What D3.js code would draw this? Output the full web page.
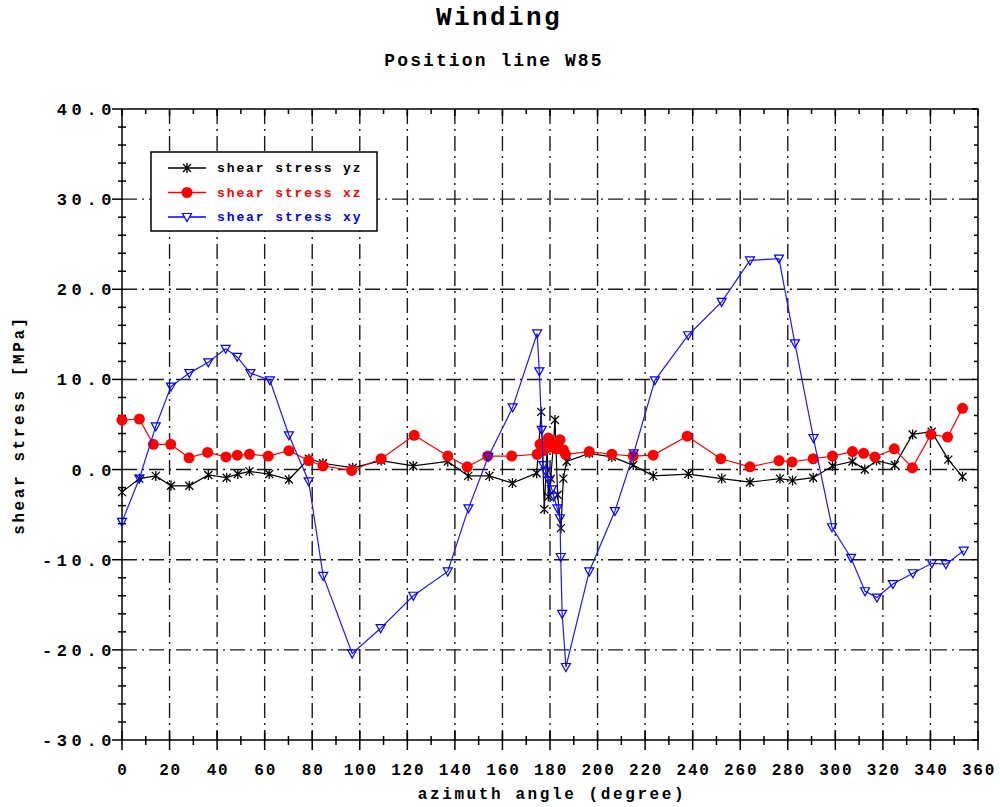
<!DOCTYPE html>
<html>
<head>
<meta charset="utf-8">
<script src="https://cdn.jsdelivr.net/npm/d3@7"></script>
<style>
  body { margin: 0; background: #fff; }
  text { font-family: "Liberation Mono", "DejaVu Sans Mono", monospace; font-weight: bold; }
</style>
</head>
<body>
<div id="chart"></div>
<script>
// Data
const yzAngle = [0, 7.3, 14.2, 20.6, 28.3, 36.3, 44, 48.7, 53.6, 61.9, 70.2, 78.6, 84.5, 97, 109, 122.5, 137, 145.6, 154.5, 164.2,
  174.4, 176.3, 177.6, 178.8, 179.3, 180.3, 181.5, 182.1, 183.2, 184.6, 185.6, 187, 196.5, 206, 215, 223.4, 238.2, 252.2, 264.1,
  276.7, 282, 290.7, 298.8, 307.2, 312.4, 317.3, 325, 332.5, 340.5, 347.5, 353.5];
const yzValue = [-2.5, -1.0, -0.7, -1.8, -1.8, -0.6, -0.9, -0.5, -0.2, -0.5, -1.1, 1.2, 0.7, 0.2, 1.0, 0.4, 0.9, -0.7, -0.7, -1.5,
  -0.4, 6.4, -4.4, 2.5, -3.0, -1.0, 3.0, 5.5, -2.8, -6.5, -1.0, 0.9, 1.8, 1.4, 0.5, -0.7, -0.5, -1.0, -1.4,
  -1.0, -1.2, -0.9, 0.4, 0.9, 0.0, 1.0, 0.5, 3.9, 4.2, 1.1, -0.8];

const xzAngle = [0, 7.3, 13.2, 20.5, 28.2, 36, 43.7, 48.5, 53.6, 61.5, 70.2, 78.5, 84.5, 96.6, 109, 122.9, 137, 145.2, 153.8, 163.9,
  174.6, 175.8, 177.2, 178.6, 179.3, 180.4, 181.7, 182.8, 184.2, 185.6, 186.5, 196.5, 206, 215, 223.4, 237.7, 251.8, 264.1,
  276.3, 281.8, 290.7, 298.8, 307.2, 311.9, 316.6, 324.8, 332.4, 340.2, 347.2, 353.5];
const xzValue = [5.5, 5.6, 2.8, 2.8, 1.3, 1.9, 1.4, 1.6, 1.7, 1.5, 2.1, 1.0, 0.4, -0.1, 1.2, 3.8, 1.5, 0.3, 1.5, 1.5,
  1.7, 2.8, 2.1, 2.4, 3.5, 2.5, 2.7, 2.3, 3.3, 2.2, 1.7, 2.0, 1.7, 1.5, 1.6, 3.7, 1.2, 0.3,
  1.0, 0.85, 1.2, 1.5, 2.0, 1.8, 1.4, 2.3, 0.2, 3.9, 3.6, 6.8];

const xyAngle = [0, 7.3, 14.2, 20.6, 28.3, 36.3, 43.6, 48.4, 54, 62.2, 70.2, 78.5, 84.6, 96.8, 108.8, 122.5, 137, 145.7, 154, 164.3,
  174.6, 175.5, 176.5, 177.2, 178.2, 179.5, 180.8, 181.6, 183.1, 184.2, 184.5, 185.1, 186.7, 196.5, 207.3, 215.2, 224.1, 238.1,
  252.2, 264.1, 276.3, 283, 290.8, 298.6, 306.6, 312.5, 317.5, 324.2, 332.6, 340.6, 346.5, 354];
const xyValue = [-5.8, -1.0, 4.8, 9.2, 10.7, 11.9, 13.4, 12.5, 10.7, 9.9, 3.8, -1.3, -11.8, -20.4, -17.6, -14.0, -11.3, -4.3, 1.4, 6.9,
  15.1, 10.9, 4.4, 0.5, -0.2, -1.2, -2.2, -3.0, -4.3, -5.4, -9.7, -16.0, -21.9, -11.3, -4.6, 1.8, 9.9, 14.9,
  18.6, 23.2, 23.4, 14.0, 3.5, -6.4, -9.8, -13.5, -14.2, -12.7, -11.5, -10.4, -10.5, -9.0];

const xTicks = [0, 20, 40, 60, 80, 100, 120, 140, 160, 180, 200, 220, 240, 260, 280, 300, 320, 340, 360];
const yTicks = [-30, -20, -10, 0, 10, 20, 30, 40];
const seriesNames = ["shear stress yz", "shear stress xz", "shear stress xy"];

const width = 1000, height = 807;
const x = d3.scaleLinear().domain([0, 360]).range([122, 978]);
const y = d3.scaleLinear().domain([-30, 40]).range([740, 109]);

const svg = d3.select("#chart").append("svg")
  .attr("width", width).attr("height", height);

// Titles
svg.append("text").attr("x", 499).attr("y", 25).attr("text-anchor", "middle")
  .attr("font-size", 26).attr("letter-spacing", 2.4).text("Winding");
svg.append("text").attr("x", 494).attr("y", 66).attr("text-anchor", "middle")
  .attr("font-size", 18).attr("letter-spacing", 2.1).text("Position line W85");

// Grid (dash-dot)
const grid = svg.append("g").attr("stroke", "#1a1a1a").attr("stroke-width", 1.4)
  .attr("stroke-dasharray", "15,5,2,5");
grid.selectAll(".vg").data(xTicks.filter(d => d > 0 && d < 360)).join("line")
  .attr("x1", d => x(d)).attr("x2", d => x(d)).attr("y1", y(40)).attr("y2", y(-30));
grid.selectAll(".hg").data(yTicks.filter(d => d > -30 && d < 40)).join("line")
  .attr("x1", x(0)).attr("x2", x(360)).attr("y1", d => y(d)).attr("y2", d => y(d));

// Frame
const frame = svg.append("g").attr("stroke", "#000").attr("stroke-width", 1.5).attr("fill", "none");
frame.append("rect").attr("x", x(0)).attr("y", y(40)).attr("width", x(360) - x(0)).attr("height", y(-30) - y(40));

// Bottom ticks
const xMinor = d3.range(0, 361, 10);
frame.selectAll(".bt").data(xMinor).join("line")
  .attr("x1", d => x(d)).attr("x2", d => x(d))
  .attr("y1", d => y(-30) - (d % 20 === 0 ? 9 : 4))
  .attr("y2", d => y(-30) + (d % 20 === 0 ? 10 : 5));
// Top ticks
frame.selectAll(".tt").data(xMinor).join("line")
  .attr("x1", d => x(d)).attr("x2", d => x(d))
  .attr("y1", y(40)).attr("y2", d => y(40) + (d % 20 === 0 ? 7 : 5));
// Left ticks
const yMinor = d3.range(-30, 41, 2);
frame.selectAll(".lt").data(yMinor).join("line")
  .attr("y1", d => y(d)).attr("y2", d => y(d))
  .attr("x1", d => x(0) - (d % 10 === 0 ? 10 : 4))
  .attr("x2", d => x(0) + (d % 10 === 0 ? 0 : 4));
// Right ticks
frame.selectAll(".rt").data(yMinor).join("line")
  .attr("y1", d => y(d)).attr("y2", d => y(d))
  .attr("x1", d => x(360) - (d % 10 === 0 ? 6 : 4))
  .attr("x2", x(360));

// Tick labels
svg.selectAll(".xl").data(xTicks).join("text")
  .attr("x", d => x(d) + 1).attr("y", 775).attr("text-anchor", "middle")
  .attr("font-size", 16).attr("letter-spacing", 1.8).text(d => d);
svg.selectAll(".yl").data(yTicks).join("text")
  .attr("x", 116).attr("y", d => y(d) + 6).attr("text-anchor", "end")
  .attr("font-size", 17).attr("letter-spacing", 4.6).text(d => d.toFixed(1));

// Axis titles
svg.append("text").attr("x", 552).attr("y", 799).attr("text-anchor", "middle")
  .attr("font-size", 16).attr("letter-spacing", 2.6).text("azimuth angle (degree)");
svg.append("text").attr("transform", "translate(24,425) rotate(-90)").attr("text-anchor", "middle")
  .attr("font-size", 16).attr("letter-spacing", 2.6).text("shear stress [MPa]");

// Series
const line = d3.line().x(d => x(d[0])).y(d => y(d[1]));
const yz = d3.zip(yzAngle, yzValue);
const xz = d3.zip(xzAngle, xzValue);
const xy = d3.zip(xyAngle, xyValue);

const plot = svg.append("g");

function starPath(s) {
  const a = s * 0.8;
  return `M0,${-s}V${s}M${-a},${-a}L${a},${a}M${-a},${a}L${a},${-a}`;
}
const triPath = "M-4.5,-3.5L4.5,-3.5L0,4.5Z";

function drawStar(g, data) {
  g.selectAll(".st").data(data).join("path")
    .attr("transform", d => `translate(${x(d[0])},${y(d[1])})`)
    .attr("d", starPath(5)).attr("stroke", "#000").attr("stroke-width", 1.3).attr("fill", "none");
}
function drawDot(g, data) {
  g.selectAll(".dt").data(data).join("circle")
    .attr("cx", d => x(d[0])).attr("cy", d => y(d[1])).attr("r", 5.5).attr("fill", "#ff0000");
}
function drawTri(g, data) {
  g.selectAll(".tr").data(data).join("path")
    .attr("transform", d => `translate(${x(d[0])},${y(d[1])})`)
    .attr("d", triPath).attr("stroke", "#0000ff").attr("stroke-width", 1.2).attr("fill", "none");
}

plot.append("path").datum(yz).attr("d", line).attr("fill", "none").attr("stroke", "#000").attr("stroke-width", 1.2);
drawStar(plot.append("g"), yz);
plot.append("path").datum(xz).attr("d", line).attr("fill", "none").attr("stroke", "#ff0000").attr("stroke-width", 1.2);
drawDot(plot.append("g"), xz);
plot.append("path").datum(xy).attr("d", line).attr("fill", "none").attr("stroke", "#1a1aff").attr("stroke-width", 1.2);
drawTri(plot.append("g"), xy);

// Legend
const legend = svg.append("g");
legend.append("rect").attr("x", 151).attr("y", 152).attr("width", 226).attr("height", 79)
  .attr("fill", "#fff").attr("stroke", "#000").attr("stroke-width", 1.5);
const legColors = ["#000", "#ff0000", "#0000ff"];
seriesNames.forEach((name, i) => {
  const ly = 168 + i * 24.5;
  legend.append("line").attr("x1", 168).attr("x2", 206).attr("y1", ly).attr("y2", ly)
    .attr("stroke", legColors[i]).attr("stroke-width", 1.3);
  const m = legend.append("g").attr("transform", `translate(187,${ly})`);
  if (i === 0) m.append("path").attr("d", starPath(5)).attr("stroke", "#000").attr("stroke-width", 1.3);
  if (i === 1) m.append("circle").attr("r", 5.5).attr("fill", "#ff0000");
  if (i === 2) m.append("path").attr("d", triPath).attr("stroke", "#0000ff").attr("stroke-width", 1.2).attr("fill", "#fff");
  legend.append("text").attr("x", 217).attr("y", ly + 4).attr("font-size", 13)
    .attr("letter-spacing", 1.9).attr("fill", legColors[i]).text(name);
});
</script>
</body>
</html>
